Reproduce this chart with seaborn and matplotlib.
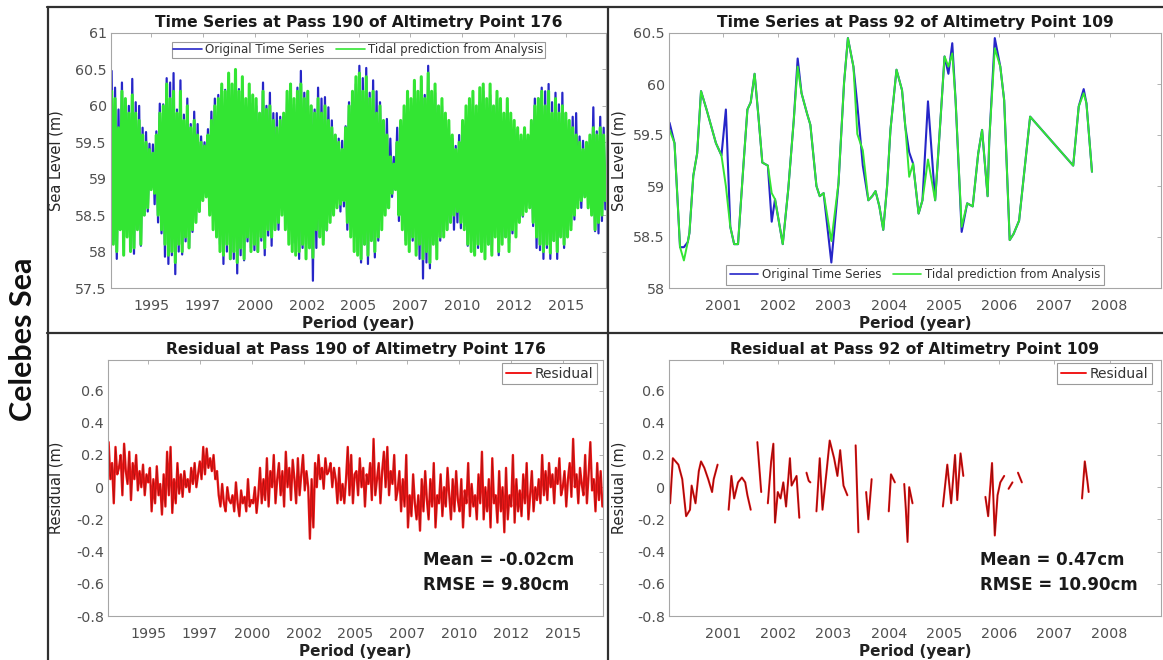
import numpy as np
import pandas as pd
import matplotlib
matplotlib.use("Agg")
import matplotlib.pyplot as plt
import seaborn as sns
from matplotlib.lines import Line2D

# ---------------- data ----------------
# Pass 190 / point 176 : roughly monthly samples, 1993.1 .. 2016.9
p1_start, p1_end = 1993.1, 2016.9
p1_tide = [
    60.2, 58.1, 60.1, 58.0, 59.7, 58.3, 60.2, 57.95, 60.1, 58.2, 59.9, 58.0,
    60.15, 58.05, 59.9, 58.3, 59.8, 58.1, 59.6, 58.5, 59.5, 58.6, 59.4, 58.85,
    59.35, 58.8, 59.6, 58.5, 59.9, 58.3, 60.0, 58.1, 60.3, 57.95, 60.1, 58.0,
    60.2, 57.85, 59.9, 58.1, 60.2, 58.0, 59.8, 58.2, 60.0, 58.05, 59.7, 58.3,
    59.8, 58.4, 59.6, 58.55, 59.5, 58.7, 59.45, 58.75, 59.6, 58.5, 59.8, 58.3,
    60.0, 58.2, 60.1, 58.0, 60.3, 57.95, 60.2, 58.1, 60.45, 57.9, 60.3, 58.0,
    60.5, 57.85, 60.2, 58.05, 60.4, 57.9, 60.1, 58.2, 60.3, 58.0, 60.15, 58.1,
    60.1, 58.0, 59.9, 58.2, 60.2, 58.05, 59.95, 58.3, 60.0, 58.2, 59.8, 58.3,
    59.7, 58.4, 59.8, 58.5, 59.9, 58.3, 60.2, 58.1, 60.3, 58.0, 60.1, 57.95,
    60.2, 58.0, 60.3, 58.1, 60.1, 57.9, 60.2, 58.05, 60.0, 57.92, 59.9, 58.3,
    60.1, 58.2, 59.9, 58.1, 60.0, 58.3, 59.8, 58.4, 59.7, 58.5, 59.6, 58.6,
    59.5, 58.65, 59.4, 58.7, 59.7, 58.4, 60.0, 58.2, 60.2, 58.0, 60.4, 57.95,
    60.45, 57.9, 60.2, 58.1, 60.4, 57.95, 60.1, 58.15, 60.2, 58.0, 59.9, 58.2,
    60.0, 58.3, 59.8, 58.5, 59.6, 58.6, 59.3, 58.8, 59.2, 58.85, 59.5, 58.5,
    59.8, 58.3, 60.0, 58.1, 60.2, 58.0, 60.1, 58.2, 60.35, 57.95, 60.2, 58.1,
    60.4, 57.9, 60.1, 58.0, 60.45, 57.85, 60.2, 58.1, 60.3, 57.9, 60.0, 58.2,
    60.1, 58.2, 59.9, 58.3, 59.8, 58.4, 59.6, 58.5, 59.4, 58.55, 59.5, 58.4,
    59.8, 58.3, 60.0, 58.1, 60.1, 58.0, 60.2, 57.95, 60.0, 58.1, 60.25, 58.0,
    60.3, 57.9, 60.1, 58.1, 60.3, 57.95, 60.0, 58.2, 60.2, 58.0, 60.1, 58.1,
    59.9, 58.2, 60.1, 58.0, 59.9, 58.3, 59.8, 58.2, 59.7, 58.4, 59.6, 58.5,
    59.7, 58.55, 59.6, 58.6, 59.8, 58.4, 60.0, 58.2, 60.1, 58.1, 60.2, 58.0,
    60.0, 58.1, 60.2, 57.98, 59.9, 58.15, 60.1, 58.0, 59.9, 58.2, 60.0, 58.1,
    59.9, 58.2, 59.8, 58.3, 59.7, 58.5, 59.6, 58.6, 59.5, 58.7, 59.4, 58.75,
    59.5, 58.6, 59.6, 58.5, 59.7, 58.3, 59.6, 58.4, 59.7, 58.5, 59.6, 58.7,
]
p1_resid = [
    0.28, 0.05, 0.15, -0.1, 0.25, 0.08, 0.12, 0.2, -0.05, 0.27, 0.1, 0.02,
    0.22, -0.08, 0.15, 0.05, 0.2, -0.02, 0.1, 0.0, 0.14, -0.05, 0.08, 0.03,
    0.12, -0.15, 0.05, -0.1, 0.13, -0.05, 0.02, -0.17, 0.08, -0.12, 0.22, -0.05,
    0.25, -0.16, 0.05, -0.1, 0.15, -0.04, 0.08, -0.06, 0.1, 0.0, 0.05, -0.03,
    0.12, 0.02, 0.15, 0.0, 0.08, 0.16, 0.05, 0.25, 0.08, 0.24, 0.12, 0.18,
    0.1, 0.2, 0.05, 0.1, -0.05, -0.12, 0.02, -0.1, -0.15, 0.0, -0.08, -0.1,
    -0.05, -0.15, 0.03, -0.1, -0.18, -0.02, -0.1, -0.06, -0.15, 0.05, -0.12, -0.08,
    -0.1, 0.0, -0.16, -0.05, 0.12, -0.1, 0.05, -0.08, 0.18, -0.12, 0.1, 0.0,
    0.2, -0.1, 0.05, 0.15, -0.05, 0.1, -0.12, 0.22, 0.0, 0.12, -0.08, 0.17,
    0.05, -0.1, 0.18, -0.05, 0.08, 0.2, -0.02, 0.1, 0.0, -0.32, 0.05, -0.25,
    0.15, 0.0, 0.2, 0.05, 0.12, -0.01, 0.18, 0.08, 0.1, 0.15, 0.0, 0.12,
    0.05, -0.1, 0.12, -0.08, 0.02, -0.1, 0.05, 0.25, -0.05, 0.2, -0.1, 0.08,
    0.1, -0.05, 0.18, 0.0, 0.12, -0.12, 0.08, 0.02, 0.15, -0.08, 0.3, -0.05,
    0.05, 0.15, -0.1, 0.1, 0.22, 0.0, 0.25, -0.05, 0.1, 0.02, 0.2, -0.08,
    -0.02, 0.1, -0.15, 0.05, -0.12, 0.2, -0.25, -0.05, -0.18, 0.08, -0.1, -0.2,
    -0.05, -0.27, 0.05, -0.15, 0.1, -0.08, -0.2, 0.05, -0.12, 0.15, -0.25, -0.05,
    -0.1, 0.08, -0.18, 0.0, -0.12, 0.12, -0.05, -0.2, 0.05, -0.15, 0.1, -0.08,
    -0.15, 0.05, -0.25, -0.02, -0.1, 0.15, -0.18, 0.02, -0.12, -0.05, -0.2, 0.08,
    -0.1, 0.22, -0.2, 0.0, -0.15, 0.05, -0.25, 0.18, -0.1, -0.05, -0.22, 0.1,
    -0.15, 0.0, -0.28, 0.12, -0.2, -0.05, -0.12, 0.2, -0.22, 0.05, -0.15, -0.02,
    -0.18, 0.08, -0.1, 0.15, -0.2, -0.05, 0.1, -0.15, 0.0, -0.08, 0.05, -0.1,
    0.2, -0.05, 0.1, -0.08, 0.15, 0.0, 0.08, -0.1, 0.12, 0.02, 0.18, -0.05,
    0.0, 0.1, -0.12, 0.05, 0.15, -0.06, 0.3, 0.0, 0.08, -0.1, 0.12, 0.02,
    -0.05, 0.2, -0.1, 0.08, 0.28, -0.02, 0.05, -0.15, 0.15, -0.08, 0.1, -0.12,
]

# Pass 92 / point 109
p2_t = [2000.03, 2000.12, 2000.22, 2000.29, 2000.36, 2000.39, 2000.46, 2000.53,
        2000.60, 2000.70, 2000.87, 2000.97, 2001.05, 2001.13, 2001.20, 2001.27,
        2001.37, 2001.44, 2001.50, 2001.57, 2001.64, 2001.71, 2001.81, 2001.88,
        2001.94, 2002.08, 2002.18, 2002.28, 2002.35, 2002.42, 2002.52, 2002.58,
        2002.69, 2002.75, 2002.82, 2002.96, 2003.09, 2003.19, 2003.26, 2003.36,
        2003.43, 2003.53, 2003.63, 2003.70, 2003.76, 2003.83, 2003.90, 2003.97,
        2004.03, 2004.14, 2004.24, 2004.30, 2004.37, 2004.44, 2004.54, 2004.61,
        2004.71, 2004.84, 2004.94, 2005.01, 2005.08, 2005.15, 2005.21, 2005.32,
        2005.42, 2005.52, 2005.62, 2005.69, 2005.79, 2005.82, 2005.92, 2006.02,
        2006.09, 2006.19, 2006.26, 2006.36, 2006.56, 2007.34, 2007.44, 2007.53,
        2007.58, 2007.68]
p2_tide = [59.55, 59.42, 58.40, 58.27, 58.45, 58.54, 59.10, 59.32,
           59.93, 59.75, 59.42, 59.30, 59.00, 58.60, 58.43, 58.43,
           59.22, 59.75, 59.82, 60.10, 59.68, 59.23, 59.20, 58.93,
           58.87, 58.43, 58.97, 59.65, 60.17, 59.91, 59.71, 59.60,
           59.00, 58.90, 58.93, 58.46, 59.03, 60.01, 60.45, 60.17,
           59.51, 59.35, 58.86, 58.90, 58.95, 58.80, 58.57, 59.00,
           59.55, 60.14, 59.94, 59.58, 59.09, 59.22, 58.73, 58.86,
           59.26, 58.86, 59.68, 60.27, 60.17, 60.30, 59.84, 58.60,
           58.83, 58.80, 59.32, 59.55, 58.90, 59.45, 60.35, 60.17,
           59.84, 58.47, 58.53, 58.66, 59.68, 59.20, 59.78, 59.91,
           59.81, 59.14]
p2_orig = [59.62, 59.42, 58.40, 58.40, 58.45, 58.54, 59.10, 59.32,
           59.93, 59.75, 59.42, 59.30, 59.75, 58.60, 58.43, 58.43,
           59.22, 59.75, 59.82, 60.10, 59.68, 59.23, 59.20, 58.65,
           58.87, 58.43, 58.97, 59.65, 60.25, 59.91, 59.71, 59.60,
           59.00, 58.90, 58.93, 58.25, 59.03, 60.01, 60.45, 60.17,
           59.80, 59.20, 58.86, 58.90, 58.95, 58.80, 58.57, 59.00,
           59.55, 60.14, 59.94, 59.58, 59.33, 59.22, 58.73, 58.86,
           59.83, 58.86, 59.68, 60.27, 60.10, 60.40, 59.84, 58.55,
           58.83, 58.80, 59.32, 59.55, 58.90, 59.45, 60.45, 60.17,
           59.84, 58.47, 58.53, 58.66, 59.68, 59.20, 59.78, 59.95,
           59.81, 59.14]

NaN = np.nan
p4_t = [2000.04, 2000.09, 2000.19, 2000.26, 2000.33, 2000.40, 2000.43, 2000.50,
        2000.56, 2000.60, 2000.66, 2000.73, 2000.80, 2000.83, 2000.90, NaN,
        2001.10, 2001.15, 2001.20, 2001.27, 2001.34, 2001.40, 2001.44, 2001.50, NaN,
        2001.62, 2001.69, NaN,
        2001.81, 2001.87, 2001.91, 2001.94, 2001.99, 2002.04, 2002.09, 2002.14,
        2002.21, 2002.24, 2002.33, 2002.38, NaN,
        2002.51, 2002.55, 2002.58, NaN,
        2002.69, 2002.75, 2002.80, 2002.88, 2002.93, 2003.01, 2003.07, 2003.12,
        2003.18, 2003.25, NaN,
        2003.40, 2003.45, NaN,
        2003.59, 2003.63, 2003.69, NaN,
        2004.00, 2004.04, 2004.11, NaN,
        2004.28, 2004.31, 2004.34, 2004.37, 2004.43, NaN,
        2004.98, 2005.06, 2005.13, 2005.20, 2005.24, 2005.30, 2005.35, NaN,
        2005.75, 2005.80, 2005.87, 2005.92, 2005.97, 2006.02, 2006.09, NaN,
        2006.17, 2006.24, NaN,
        2006.34, 2006.41, NaN,
        2007.50, 2007.55, 2007.60, 2007.62]
p4_resid = [-0.10, 0.18, 0.14, 0.05, -0.18, -0.14, 0.01, -0.10,
            0.10, 0.16, 0.12, 0.05, -0.03, 0.05, 0.14, NaN,
            -0.14, 0.07, -0.07, 0.03, 0.06, 0.03, -0.05, -0.14, NaN,
            0.28, -0.03, NaN,
            -0.10, 0.16, 0.27, -0.22, -0.03, -0.07, 0.03, -0.12,
            0.18, 0.01, 0.07, -0.19, NaN,
            0.09, 0.04, 0.03, NaN,
            -0.15, 0.18, -0.14, 0.12, 0.29, 0.18, 0.07, 0.23,
            0.01, -0.05, NaN,
            0.26, -0.28, NaN,
            -0.03, -0.20, 0.05, NaN,
            -0.15, 0.08, 0.03, NaN,
            0.02, -0.14, -0.34, 0.00, -0.10, NaN,
            -0.12, 0.14, -0.10, 0.20, -0.08, 0.21, 0.07, NaN,
            -0.06, -0.18, 0.15, -0.30, -0.05, 0.03, 0.07, NaN,
            -0.01, 0.03, NaN,
            0.09, 0.03, NaN,
            -0.07, 0.16, 0.03, -0.03]

p1_xticks = [1995, 1997.5, 2000, 2002.5, 2005, 2007.5, 2010, 2012.5, 2015]
p1_xlabels = ["1995", "1997", "2000", "2002", "2005", "2007", "2010", "2012", "2015"]
p2_xticks = [2001, 2002, 2003, 2004, 2005, 2006, 2007, 2008]
p1_yticks = [57.5, 58, 58.5, 59, 59.5, 60, 60.5, 61]
p2_yticks = [58, 58.5, 59, 59.5, 60, 60.5]
res_yticks = [-0.8, -0.6, -0.4, -0.2, 0, 0.2, 0.4, 0.6]

stats_190 = ["Mean = -0.02cm", "RMSE = 9.80cm"]
stats_92 = ["Mean = 0.47cm", "RMSE = 10.90cm"]

# ---------------- tables ----------------
df1 = pd.DataFrame({"t": np.linspace(p1_start, p1_end, len(p1_tide)),
                    "tide": p1_tide, "resid": p1_resid})
# original series = tidal prediction + residual
df1["orig"] = df1["tide"] + df1["resid"]

df2 = pd.DataFrame({"t": p2_t, "tide": p2_tide, "orig": p2_orig})

df4 = pd.DataFrame({"t": p4_t, "resid": p4_resid})
df4["seg"] = df4["t"].isna().cumsum()
df4 = df4.dropna()

# ---------------- style ----------------
sns.set_style("white")
plt.rcParams["font.family"] = ["DejaVu Sans"]

BLUE = "#2626c8"
GREEN = "#33e533"
RED = "#f01818"
DARKRED = "#6a0808"
SPINE = "#a6a6a6"
TICKTXT = "#505050"

W, H = 1163, 660
fig = plt.figure(figsize=(W / 100, H / 100), dpi=100)


def add_ax(left, right, top, bottom):
    return fig.add_axes([left / W, 1 - bottom / H, (right - left) / W, (bottom - top) / H])


ax1 = add_ax(111, 606, 33, 288)
ax2 = add_ax(669, 1161, 33, 288)
ax3 = add_ax(108, 603, 360, 616)
ax4 = add_ax(669, 1161, 360, 616)

# top left
sns.lineplot(data=df1, x="t", y="orig", ax=ax1, color=BLUE, lw=1.6, estimator=None, sort=False)
sns.lineplot(data=df1, x="t", y="tide", ax=ax1, color=GREEN, lw=2.2, estimator=None, sort=False)
# top right
sns.lineplot(data=df2, x="t", y="orig", ax=ax2, color=BLUE, lw=1.5, estimator=None, sort=False)
sns.lineplot(data=df2, x="t", y="tide", ax=ax2, color=GREEN, lw=1.4, estimator=None, sort=False)
# residuals
sns.lineplot(data=df1, x="t", y="resid", ax=ax3, color=RED, lw=1.7, estimator=None, sort=False)
sns.lineplot(data=df1, x="t", y="resid", ax=ax3, color=DARKRED, lw=0.4, alpha=0.6, estimator=None, sort=False)
sns.lineplot(data=df4, x="t", y="resid", units="seg", ax=ax4, color=RED, lw=1.5, estimator=None, sort=False)
sns.lineplot(data=df4, x="t", y="resid", units="seg", ax=ax4, color=DARKRED, lw=0.6, alpha=0.8, estimator=None, sort=False)

titles = ["Time Series at Pass 190 of Altimetry Point 176",
          "Time Series at Pass 92 of Altimetry Point 109",
          "Residual at Pass 190 of Altimetry Point 176",
          "Residual at Pass 92 of Altimetry Point 109"]
ylabels = ["Sea Level (m)", "Sea Level (m)", "Residual (m)", "Residual (m)"]
ylab_x = [-0.095, -0.087, -0.089, -0.087]

for ax, ttl, yl, yx in zip([ax1, ax2, ax3, ax4], titles, ylabels, ylab_x):
    ax.set_title(ttl, fontsize=11.2, fontweight="bold", color="#1a1a1a", pad=4)
    ax.set_xlabel("Period (year)", fontsize=11, fontweight="bold", color="#222222")
    ax.set_ylabel(yl, fontsize=10.5, color="#262626")
    ax.yaxis.set_label_coords(yx, 0.5)
    ax.xaxis.set_label_coords(0.5, -0.11)
    for s in ax.spines.values():
        s.set_color(SPINE)
        s.set_linewidth(0.8)
    ax.tick_params(axis="both", direction="in", length=3, width=0.6, color=SPINE,
                   labelcolor=TICKTXT, labelsize=10.3, top=True, right=True)
    ax.tick_params(axis="x", pad=8)
    ax.tick_params(axis="y", pad=3)

for ax in [ax1, ax3]:
    ax.set_xlim(1993.07, 2016.93)
    ax.set_xticks(p1_xticks, p1_xlabels)
for ax in [ax2, ax4]:
    ax.set_xlim(2000.02, 2008.93)
    ax.set_xticks(p2_xticks, [str(v) for v in p2_xticks])

ax1.set_ylim(57.5, 61)
ax1.set_yticks(p1_yticks, [f"{v:g}" for v in p1_yticks])
ax2.set_ylim(58, 60.5)
ax2.set_yticks(p2_yticks, [f"{v:g}" for v in p2_yticks])
for ax in [ax3, ax4]:
    ax.set_ylim(-0.8, 0.79)
    ax.set_yticks(res_yticks, [f"{v:g}" for v in res_yticks])

# legends
ts_handles = [Line2D([], [], color=BLUE, lw=1.2, label="Original Time Series"),
              Line2D([], [], color=GREEN, lw=1.2, label="Tidal prediction from Analysis")]
leg_kw = dict(frameon=True, fancybox=False, edgecolor="#9a9a9a", framealpha=1,
              borderaxespad=0, handletextpad=0.3, labelcolor="#333333")
l1 = ax1.legend(handles=ts_handles, loc="upper center", bbox_to_anchor=(0.5, 0.965), ncol=2,
                fontsize=8.5, borderpad=0.12, handlelength=2.4, columnspacing=1.0, **leg_kw)
l2 = ax2.legend(handles=ts_handles, loc="lower center", bbox_to_anchor=(0.5, 0.012), ncol=2,
                fontsize=8.5, borderpad=0.3, handlelength=2.4, columnspacing=1.0, **leg_kw)
res_handle = [Line2D([], [], color=RED, lw=1.4, label="Residual")]
for ax, bx in [(ax3, 0.988), (ax4, 0.982)]:
    lg = ax.legend(handles=res_handle, loc="upper right", bbox_to_anchor=(bx, 0.988),
                   fontsize=10, borderpad=0.25, handlelength=1.8, **leg_kw)
    lg.get_frame().set_linewidth(0.8)
for lg in [l1, l2]:
    lg.get_frame().set_linewidth(0.8)

# statistics text
for ax, lines, x0 in [(ax3, stats_190, 0.636), (ax4, stats_92, 0.632)]:
    ax.text(x0, 0.219, lines[0], transform=ax.transAxes, fontsize=12, fontweight="bold",
            color="#1a1a1a", va="center", ha="left")
    ax.text(x0, 0.121, lines[1], transform=ax.transAxes, fontsize=12, fontweight="bold",
            color="#1a1a1a", va="center", ha="left")

# table grid lines around the panels
grid_kw = dict(transform=fig.transFigure, color="#303030", lw=1.6)
fig.add_artist(Line2D([47 / W, 1], [1 - 7 / H, 1 - 7 / H], **grid_kw))
fig.add_artist(Line2D([47 / W, 1], [1 - 333.5 / H, 1 - 333.5 / H], **grid_kw))
fig.add_artist(Line2D([47.5 / W, 47.5 / W], [0, 1 - 7 / H], **grid_kw))
fig.add_artist(Line2D([608 / W, 608 / W], [0, 1 - 7 / H], **grid_kw))

fig.text(23 / W, 1 - 339 / H, "Celebes Sea", rotation=90, ha="center", va="center",
         fontsize=22, fontweight="bold", family=["Lato", "DejaVu Sans"], color="#111111")

fig.savefig("out.png", dpi=100)
